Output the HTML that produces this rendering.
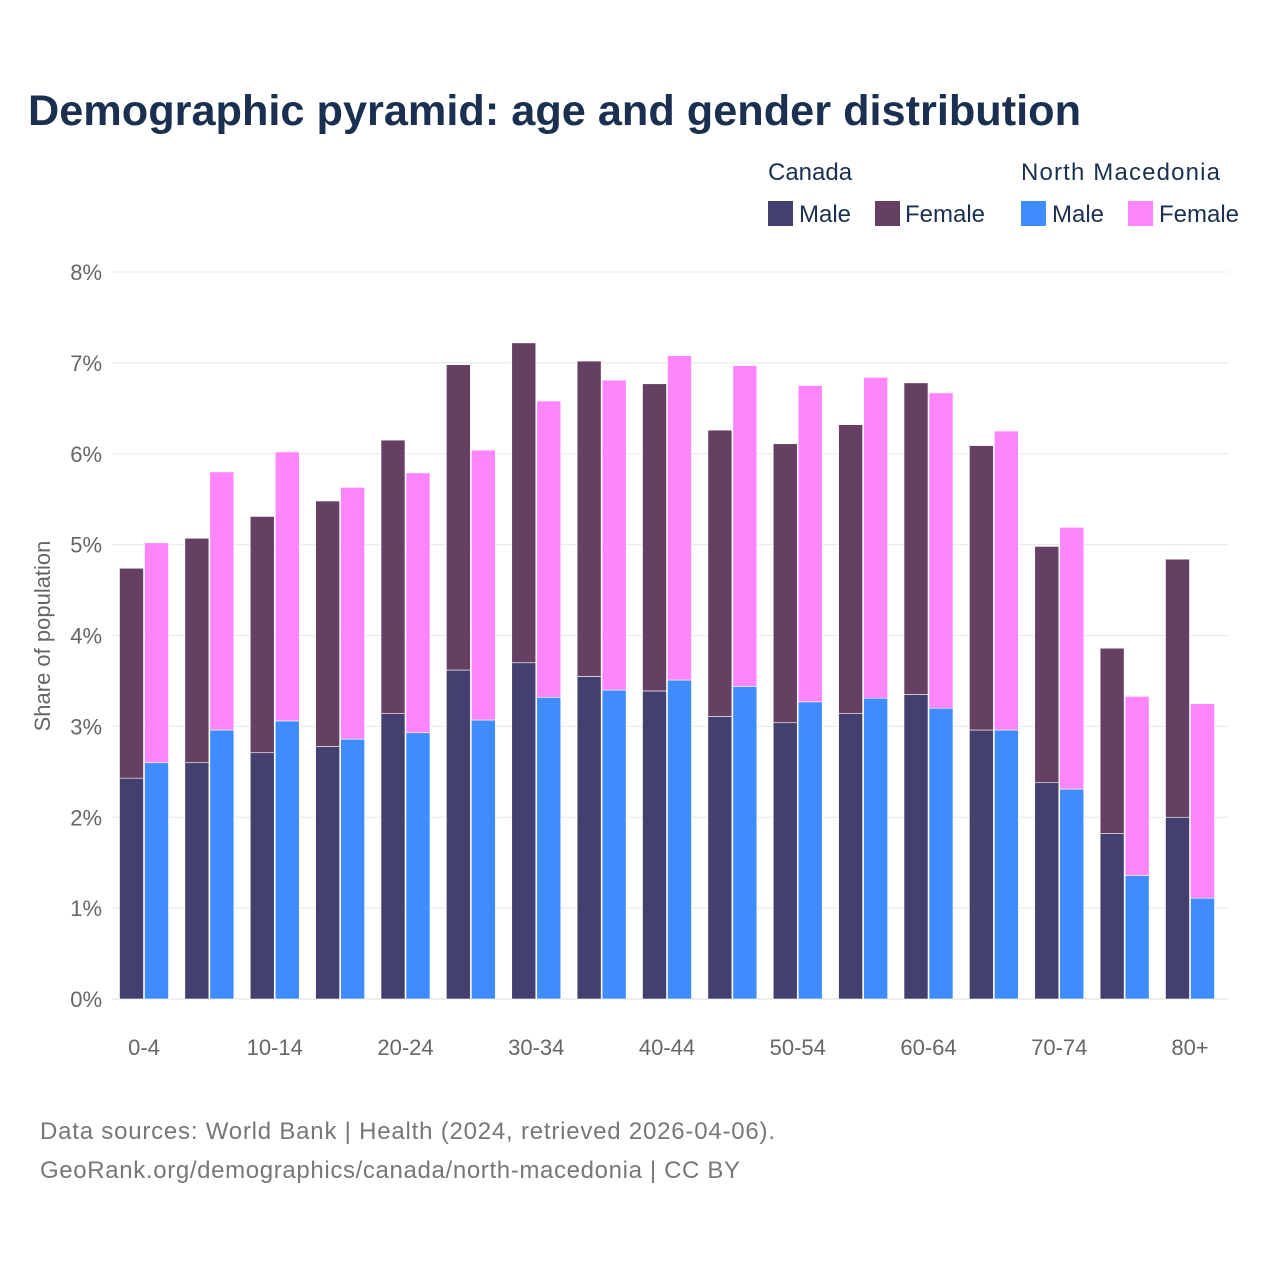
<!DOCTYPE html>
<html><head><meta charset="utf-8"><style>
body{margin:0;background:#fff;font-family:"Liberation Sans",sans-serif}
svg text{font-family:"Liberation Sans",sans-serif}
</style></head><body>
<svg id="chart" width="1280" height="1280" viewBox="0 0 1280 1280">
<rect width="1280" height="1280" fill="#fff"/>
<text x="28" y="125" font-size="43" font-weight="bold" fill="#1b3050" textLength="1053" lengthAdjust="spacingAndGlyphs">Demographic pyramid: age and gender distribution</text>
<g font-size="24" fill="#1b3050">
<text x="768" y="180">Canada</text>
<text x="1021" y="180" textLength="199">North Macedonia</text>
<g><rect x="768" y="201" width="25" height="25" fill="#433f6f"/><text x="799" y="222">Male</text></g>
<g><rect x="875" y="201" width="25" height="25" fill="#654062"/><text x="905" y="222">Female</text></g>
<g><rect x="1021" y="201" width="25" height="25" fill="#3f8cff"/><text x="1052" y="222">Male</text></g>
<g><rect x="1128" y="201" width="25" height="25" fill="#ff85fb"/><text x="1159" y="222">Female</text></g>
</g>
<text transform="translate(50,636) rotate(-90)" text-anchor="middle" font-size="22" fill="#666">Share of population</text>
<g id="grid"></g><g id="bars"></g><g id="xlabels"></g>
<text x="40" y="1139" font-size="24" fill="#777" textLength="735">Data sources: World Bank | Health (2024, retrieved 2026-04-06).</text>
<text x="40" y="1178" font-size="24" fill="#777" textLength="700">GeoRank.org/demographics/canada/north-macedonia | CC BY</text>
</svg>
<script>
const categories=["0-4","5-9","10-14","15-19","20-24","25-29","30-34","35-39","40-44","45-49","50-54","55-59","60-64","65-69","70-74","75-79","80+"];
const canadaMale=[2.43,2.60,2.71,2.78,3.14,3.62,3.70,3.55,3.39,3.11,3.04,3.14,3.35,2.96,2.38,1.82,2.00];
const canadaFemale=[2.31,2.47,2.60,2.70,3.01,3.36,3.52,3.47,3.38,3.15,3.07,3.18,3.43,3.13,2.60,2.04,2.84];
const nmMale=[2.60,2.96,3.06,2.86,2.93,3.07,3.32,3.40,3.51,3.44,3.27,3.31,3.20,2.96,2.31,1.36,1.11];
const nmFemale=[2.42,2.84,2.96,2.77,2.86,2.97,3.26,3.41,3.57,3.53,3.48,3.53,3.47,3.29,2.88,1.97,2.14];
const yTicks=[0,1,2,3,4,5,6,7,8];
const NS="http://www.w3.org/2000/svg";
const y=v=>999-v*90.875;
const xc=i=>144+i*65.375;
function mk(t,a,p){const e=document.createElementNS(NS,t);for(const k in a)e.setAttribute(k,a[k]);p.appendChild(e);return e;}
const grid=document.getElementById('grid'),bars=document.getElementById('bars'),xl=document.getElementById('xlabels');
yTicks.forEach(t=>{
 const l=mk('line',{x1:112,x2:1228,y1:y(t),y2:y(t),stroke:t===0?'#ddd':'#e8e8e8','stroke-width':1},grid);
 
 
 const tx=mk('text',{x:102,y:y(t)+8,'text-anchor':'end','font-size':22,fill:'#666'},grid);
 tx.textContent=t+'%';
 
 
});
function bar(x,v0,v1,c,name){
 const r=mk('rect',{x:x,y:y(v1),width:24,height:y(v0)-y(v1),fill:c,stroke:'#fff','stroke-width':0.6},bars);
 
 
}
categories.forEach((c,i)=>{
 const cx=xc(i);
 bar(cx-24.5,0,canadaMale[i],'#433f6f','bar-canada-male-'+c);
 bar(cx-24.5,canadaMale[i],canadaMale[i]+canadaFemale[i],'#654062','bar-canada-female-'+c);
 bar(cx+0.5,0,nmMale[i],'#3f8cff','bar-nm-male-'+c);
 bar(cx+0.5,nmMale[i],nmMale[i]+nmFemale[i],'#ff85fb','bar-nm-female-'+c);
 if(i%2===0){
  const t=mk('text',{x:cx,y:1055,'text-anchor':'middle','font-size':22,fill:'#666'},xl);
  t.textContent=c;
  
  
 }
});
</script>
</body></html>
